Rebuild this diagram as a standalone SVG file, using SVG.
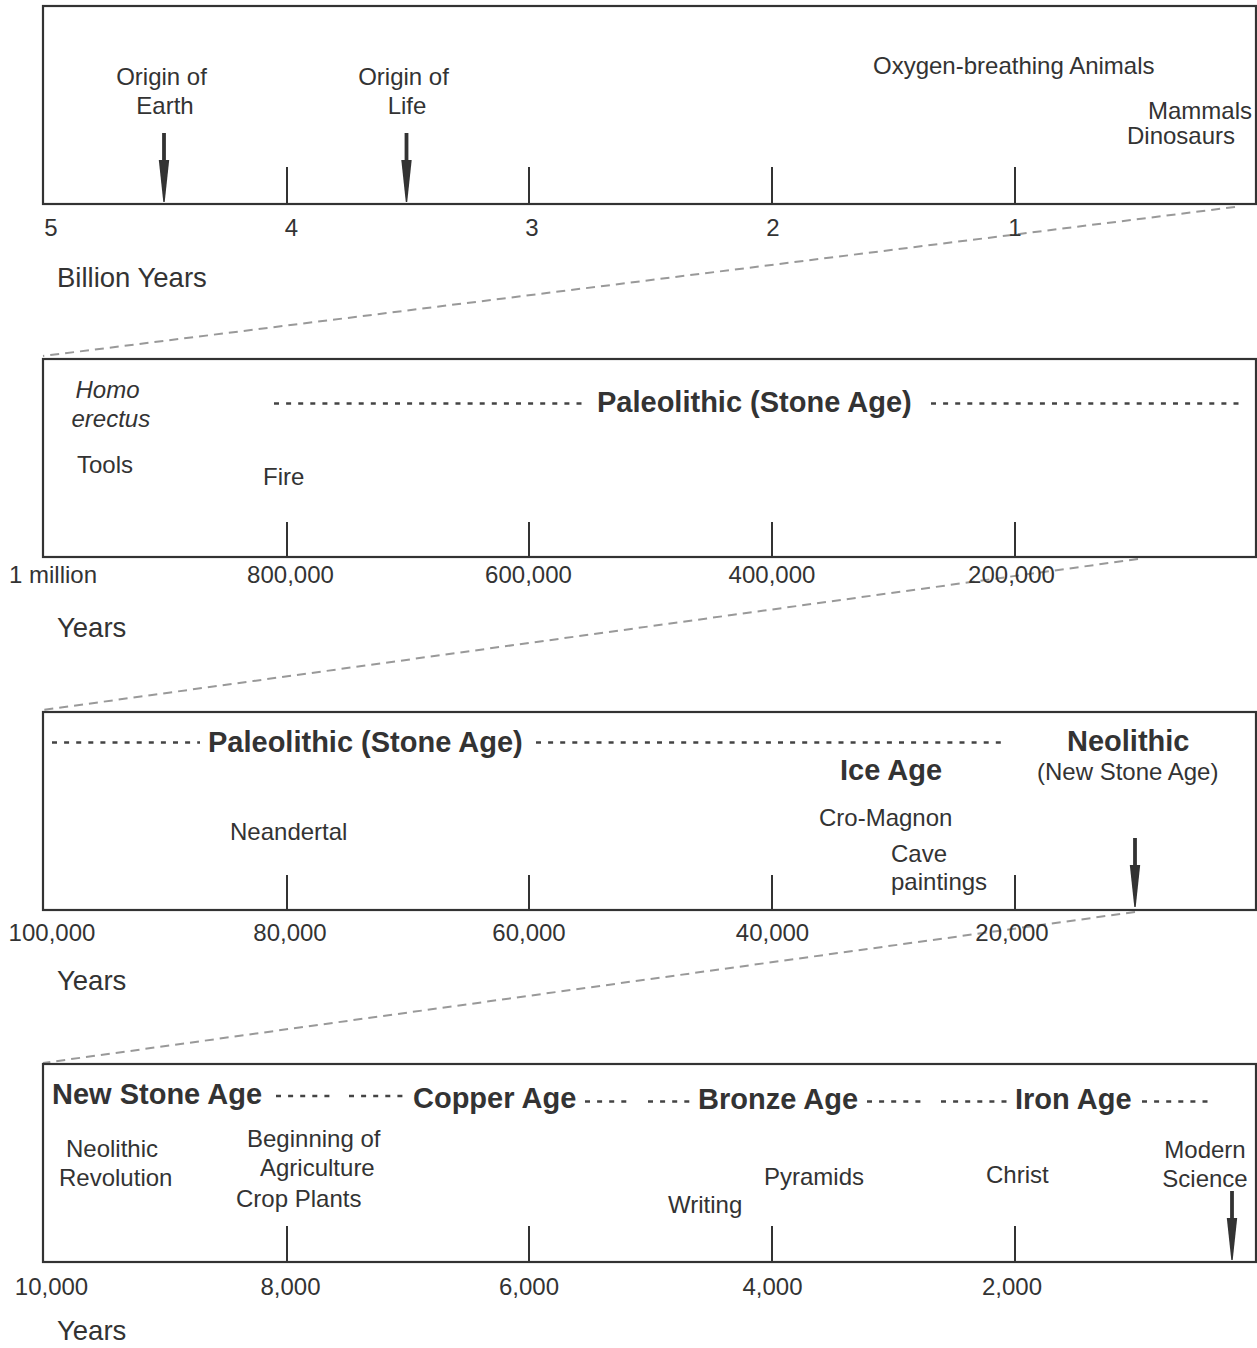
<svg xmlns="http://www.w3.org/2000/svg" width="1257" height="1348" viewBox="0 0 1257 1348">
<style>
text{font-family:"Liberation Sans",Arial,Helvetica,sans-serif;fill:#333;}
.t{font-size:24px;}
.b{font-size:29px;font-weight:bold;}
.u{font-size:27.5px;}
.i{font-style:italic;}
.m{text-anchor:middle;}
.frame{fill:none;stroke:#333;stroke-width:2.2;}
.tick{stroke:#333;stroke-width:2;}
.dots{stroke:#444;stroke-width:2.5;stroke-dasharray:5 7.1;}
.conn{stroke:#999;stroke-width:2;stroke-dasharray:9 6;fill:none;}
.arr{fill:#333;}
</style>
<defs>
<g id="arrow" class="arr">
<rect x="-1.9" y="-69" width="3.8" height="30"/>
<path d="M-5.2,-42 L5.2,-42 L0.7,0 L-0.7,0 Z"/>
</g>
</defs>
<rect width="1257" height="1348" fill="#fff"/>

<g id="connectors">
<line class="conn" x1="1235" y1="207" x2="43" y2="356"/>
<line class="conn" x1="1138" y1="559" x2="43" y2="710"/>
<line class="conn" x1="1135" y1="912" x2="43" y2="1063"/>
</g>

<g id="panel-billion">
<rect class="frame" x="43" y="6" width="1213" height="198"/>
<line class="tick" x1="287" y1="167" x2="287" y2="204"/>
<line class="tick" x1="529" y1="167" x2="529" y2="204"/>
<line class="tick" x1="772" y1="167" x2="772" y2="204"/>
<line class="tick" x1="1015" y1="167" x2="1015" y2="204"/>
<use href="#arrow" x="164" y="202"/>
<use href="#arrow" x="406.5" y="202"/>
<text class="t m" x="161.5" y="85">Origin of</text>
<text class="t m" x="165" y="114">Earth</text>
<text class="t m" x="403.5" y="85">Origin of</text>
<text class="t m" x="407" y="114">Life</text>
<text class="t" x="873" y="74">Oxygen-breathing Animals</text>
<text class="t" x="1148" y="119">Mammals</text>
<text class="t" x="1127" y="144">Dinosaurs</text>
<text class="t m" x="51" y="236">5</text>
<text class="t m" x="291.5" y="236">4</text>
<text class="t m" x="532" y="236">3</text>
<text class="t m" x="773" y="236">2</text>
<text class="t m" x="1015" y="236">1</text>
<text class="u" x="57" y="287">Billion Years</text>
</g>

<g id="panel-million">
<rect class="frame" x="43" y="359" width="1213" height="198"/>
<line class="tick" x1="287" y1="522" x2="287" y2="557"/>
<line class="tick" x1="529" y1="522" x2="529" y2="557"/>
<line class="tick" x1="772" y1="522" x2="772" y2="557"/>
<line class="tick" x1="1015" y1="522" x2="1015" y2="557"/>
<line class="dots" x1="274" y1="403.5" x2="582" y2="403.5"/>
<line class="dots" x1="931" y1="403.5" x2="1242" y2="403.5"/>
<text class="b" x="597" y="412">Paleolithic (Stone Age)</text>
<text class="t i" x="75.5" y="398">Homo</text>
<text class="t i" x="71.5" y="427">erectus</text>
<text class="t" x="77" y="473">Tools</text>
<text class="t" x="263" y="485">Fire</text>
<text class="t m" x="53" y="583">1 million</text>
<text class="t m" x="290.5" y="583">800,000</text>
<text class="t m" x="528.5" y="583">600,000</text>
<text class="t m" x="772" y="583">400,000</text>
<text class="t m" x="1011.5" y="583">200,000</text>
<text class="u" x="57" y="637">Years</text>
</g>

<g id="panel-100k">
<rect class="frame" x="43" y="712" width="1213" height="198"/>
<line class="tick" x1="287" y1="875" x2="287" y2="910"/>
<line class="tick" x1="529" y1="875" x2="529" y2="910"/>
<line class="tick" x1="772" y1="875" x2="772" y2="910"/>
<line class="tick" x1="1015" y1="875" x2="1015" y2="910"/>
<line class="dots" x1="52" y1="742.5" x2="200" y2="742.5"/>
<line class="dots" x1="536" y1="742.5" x2="1006" y2="742.5"/>
<text class="b" x="208" y="752">Paleolithic (Stone Age)</text>
<text class="b" x="840" y="780">Ice Age</text>
<text class="b" x="1067" y="751">Neolithic</text>
<text class="t" x="1037" y="780">(New Stone Age)</text>
<text class="t" x="230" y="840">Neandertal</text>
<text class="t" x="819" y="826">Cro-Magnon</text>
<text class="t" x="891" y="862">Cave</text>
<text class="t" x="891" y="890">paintings</text>
<use href="#arrow" x="1135" y="907"/>
<text class="t m" x="52" y="940.5">100,000</text>
<text class="t m" x="290" y="940.5">80,000</text>
<text class="t m" x="529" y="940.5">60,000</text>
<text class="t m" x="772.5" y="940.5">40,000</text>
<text class="t m" x="1012" y="940.5">20,000</text>
<text class="u" x="57" y="990">Years</text>
</g>

<g id="panel-10k">
<rect class="frame" x="43" y="1064" width="1213" height="198"/>
<line class="tick" x1="287" y1="1226" x2="287" y2="1262"/>
<line class="tick" x1="529" y1="1226" x2="529" y2="1262"/>
<line class="tick" x1="772" y1="1226" x2="772" y2="1262"/>
<line class="tick" x1="1015" y1="1226" x2="1015" y2="1262"/>
<text class="b" x="52" y="1104">New Stone Age</text>
<line class="dots" x1="276" y1="1096" x2="332" y2="1096"/>
<line class="dots" x1="349" y1="1096" x2="403" y2="1096"/>
<text class="b" x="413" y="1108">Copper Age</text>
<line class="dots" x1="585" y1="1101.5" x2="630" y2="1101.5"/>
<line class="dots" x1="648" y1="1101.5" x2="692" y2="1101.5"/>
<text class="b" x="698" y="1109">Bronze Age</text>
<line class="dots" x1="867" y1="1101.5" x2="922" y2="1101.5"/>
<line class="dots" x1="941" y1="1101.5" x2="1007" y2="1101.5"/>
<text class="b" x="1015" y="1109">Iron Age</text>
<line class="dots" x1="1142" y1="1101.5" x2="1210" y2="1101.5"/>
<text class="t" x="66" y="1157">Neolithic</text>
<text class="t" x="59" y="1186">Revolution</text>
<text class="t" x="247" y="1147">Beginning of</text>
<text class="t" x="260" y="1176">Agriculture</text>
<text class="t" x="236" y="1207">Crop Plants</text>
<text class="t" x="668" y="1213">Writing</text>
<text class="t" x="764" y="1185">Pyramids</text>
<text class="t" x="986" y="1183">Christ</text>
<text class="t m" x="1205" y="1158">Modern</text>
<text class="t m" x="1205" y="1187">Science</text>
<use href="#arrow" x="1232" y="1260"/>
<text class="t m" x="51.5" y="1295">10,000</text>
<text class="t m" x="290.5" y="1295">8,000</text>
<text class="t m" x="529" y="1295">6,000</text>
<text class="t m" x="772.5" y="1295">4,000</text>
<text class="t m" x="1012" y="1295">2,000</text>
<text class="u" x="57" y="1340">Years</text>
</g>
</svg>
